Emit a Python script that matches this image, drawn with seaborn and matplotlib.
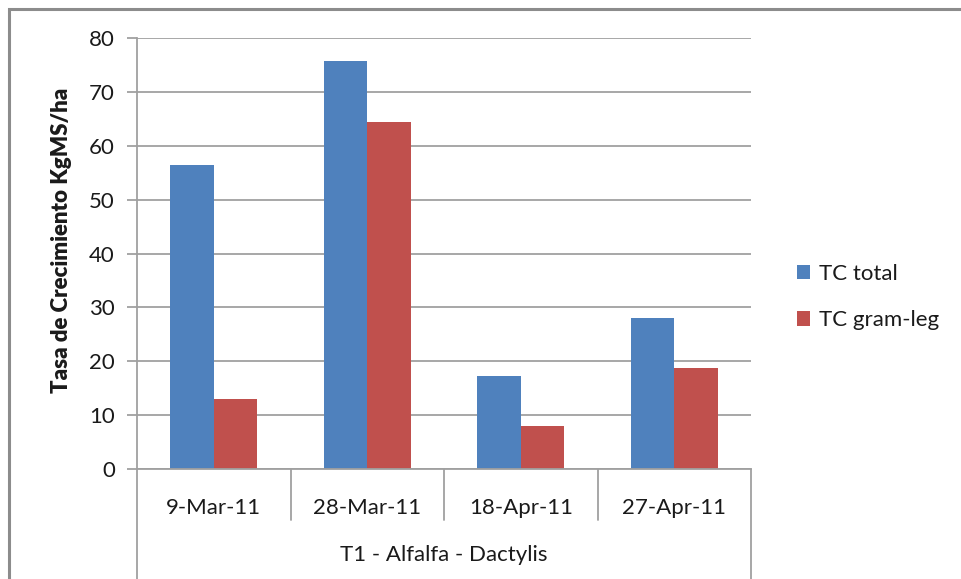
import numpy as np
import pandas as pd
import seaborn as sns
import matplotlib
matplotlib.use("Agg")
import matplotlib.pyplot as plt
from matplotlib.patches import Rectangle, Patch

# Growth-rate data (kg DM/ha) per sampling date
fechas = ["9-Mar-11", "28-Mar-11", "18-Apr-11", "27-Apr-11"]
tc_total = [56.4, 75.8, 17.3, 28.0]
tc_gram_leg = [13.0, 64.4, 7.9, 18.8]
series = ["TC total", "TC gram-leg"]
grupo = "T1 - Alfalfa - Dactylis"
y_ticks = [0, 10, 20, 30, 40, 50, 60, 70, 80]

df = pd.DataFrame({
    "fecha": fechas * 2,
    "valor": tc_total + tc_gram_leg,
    "serie": [series[0]] * len(fechas) + [series[1]] * len(fechas),
})

sns.set_theme(style="white")
plt.rcParams["font.family"] = ["Lato", "DejaVu Sans"]

colores = ["#4F81BD", "#C0504D"]
gris = "#A0A0A0"
txt = "#1A1A1A"

fig = plt.figure(figsize=(9.61, 5.79), dpi=100)
ax = fig.add_axes([137 / 961, 1 - 469 / 579, (751 - 137) / 961, (469 - 38) / 579])

sns.barplot(data=df, x="fecha", y="valor", hue="serie", order=fechas,
            hue_order=series, palette=colores, saturation=1, width=0.57,
            edgecolor="none", ax=ax, legend=False)

ax.set_ylim(0, 80)
ax.set_xlim(-0.5, len(fechas) - 0.5)
ax.set_yticks(y_ticks)
ax.yaxis.grid(True, color=gris, linewidth=1.3)
ax.set_axisbelow(True)
for s in ["top", "right"]:
    ax.spines[s].set_visible(False)
for s in ["left", "bottom"]:
    ax.spines[s].set_color(gris)
    ax.spines[s].set_linewidth(1.3)

ax.tick_params(axis="y", left=True, length=7, width=1.3, color=gris,
               labelsize=16, labelcolor=txt, pad=9)
ax.tick_params(axis="x", bottom=False, labelsize=16, labelcolor=txt, pad=15)
ax.set_xlabel("")
ax.set_ylabel("Tasa de Crecimiento KgMS/ha", fontsize=16, fontweight="heavy",
              color=txt)
ax.yaxis.set_label_coords(-0.106, 0.531)

# Two-level category axis: dividers between dates and outer group frame
trans = ax.get_xaxis_transform()
for i in range(len(fechas) + 1):
    xb = i - 0.5
    y_end = -0.35 if i in (0, len(fechas)) else -0.118
    ax.plot([xb, xb], [0, y_end], transform=trans, color=gris,
            linewidth=1.3, clip_on=False)
ax.text((len(fechas) - 1) / 2, -0.2, grupo, transform=trans, ha="center",
        va="center", fontsize=16, color=txt)

# Legend
handles = [Patch(facecolor=c, edgecolor="none") for c in colores]
fig.legend(handles, series, loc="center left",
           bbox_to_anchor=(777 / 961, 1 - 297 / 579), frameon=False,
           fontsize=16, handlelength=0.6, handleheight=0.6,
           handletextpad=0.4, labelspacing=1.2, labelcolor=txt)

# Chart-area border
fig.patches.append(Rectangle((9 / 961, -0.2), 1.2, 1.2 - 9 / 579,
                             transform=fig.transFigure, fill=False,
                             edgecolor="#8C8C8C", linewidth=2.2))

fig.savefig("out.png", dpi=100)
